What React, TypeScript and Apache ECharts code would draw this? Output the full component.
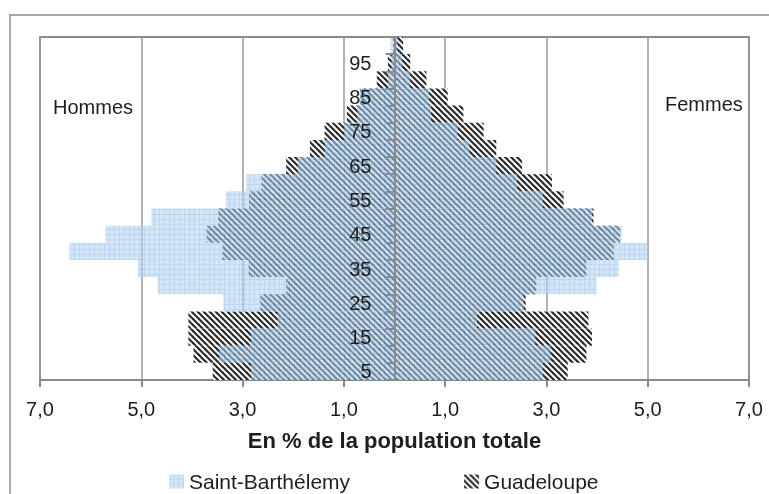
import React, { useEffect, useRef } from "react";
import * as echarts from "echarts";

const ages = ["5", "10", "15", "20", "25", "30", "35", "40", "45", "50", "55", "60", "65", "70", "75", "80", "85", "90", "95", "100"];

const sbHommes = [2.83, 3.46, 2.83, 2.31, 3.38, 4.68, 5.07, 6.42, 5.71, 4.8, 3.33, 2.93, 1.91, 1.38, 0.99, 0.73, 0.69, 0.13, 0.06, 0.08];
const gHommes = [3.59, 3.97, 4.07, 4.07, 2.65, 2.14, 2.88, 3.4, 3.71, 3.48, 2.87, 2.63, 2.14, 1.67, 1.38, 0.94, 0.68, 0.35, 0.13, 0.03];
const sbFemmes = [2.93, 3.08, 2.78, 1.63, 2.55, 3.99, 4.43, 5.0, 4.49, 3.9, 2.93, 2.42, 2.01, 1.48, 1.25, 0.72, 0.68, 0.31, 0.15, 0.06];
const gFemmes = [3.42, 3.79, 3.9, 3.83, 2.59, 2.8, 3.79, 4.33, 4.45, 3.93, 3.34, 3.11, 2.52, 2.01, 1.76, 1.36, 1.05, 0.63, 0.31, 0.17];

const xMin = -7;
const xMax = 7;
const xInterval = 2;

const FONT = "'Liberation Sans', Arial, sans-serif";
const TEXT = "#1e1e1e";

const GRID_LEFT = 40;
const GRID_RIGHT = 20;
const CHART_W = 769;

function makeHatch() {
  const s = 6;
  const c = document.createElement("canvas");
  c.width = s;
  c.height = s;
  const ctx = c.getContext("2d")!;
  ctx.fillStyle = "#ffffff";
  ctx.fillRect(0, 0, s, s);
  ctx.strokeStyle = "#2a2a2a";
  ctx.lineWidth = 2.2;
  for (let k = -2; k <= 2; k++) {
    ctx.beginPath();
    ctx.moveTo(-s, -s + k * s);
    ctx.lineTo(2 * s, 2 * s + k * s);
    ctx.stroke();
  }
  return c;
}

function makeGrid() {
  const s = 5;
  const c = document.createElement("canvas");
  c.width = s;
  c.height = s;
  const ctx = c.getContext("2d")!;
  ctx.fillStyle = "#b7d5f0";
  ctx.fillRect(0, 0, s, s);
  ctx.fillStyle = "#8dbde8";
  ctx.fillRect(s - 1, 0, 1, s);
  ctx.fillRect(0, s - 1, s, 1);
  return c;
}

export default function App() {
  const ref = useRef<HTMLDivElement>(null);
  useEffect(() => {
    if (!ref.current) return;
    const chart = echarts.init(ref.current, undefined, { renderer: "svg" });
    const hatch = { image: makeHatch(), repeat: "repeat", imageWidth: 6, imageHeight: 6 } as any;
    const grid = { image: makeGrid(), repeat: "repeat", imageWidth: 5, imageHeight: 5 } as any;
    const fmt = (v: number) => Math.abs(v).toFixed(1).replace(".", ",");
    const halfWidth = (CHART_W - GRID_LEFT - GRID_RIGHT) / 2;
    chart.setOption({
      animation: false,
      textStyle: { fontFamily: FONT },
      grid: {
        left: GRID_LEFT,
        right: GRID_RIGHT,
        top: 37,
        bottom: 114,
        show: true,
        containLabel: false,
        outerBoundsMode: "none",
        borderColor: "#8a8a8a",
        borderWidth: 2,
      },
      legend: {
        left: 164,
        top: 466,
        itemWidth: 15,
        itemHeight: 14,
        itemGap: 114,
        icon: "rect",
        textStyle: { fontSize: 21, color: TEXT, fontFamily: FONT },
        data: ["Saint-Barthélemy", "Guadeloupe"],
      },
      xAxis: {
        type: "value",
        min: xMin,
        max: xMax,
        interval: xInterval,
        axisLine: { show: true, lineStyle: { color: "#8a8a8a", width: 2 } },
        axisTick: { show: true, length: 7, lineStyle: { color: "#8a8a8a", width: 2 } },
        splitLine: { show: true, lineStyle: { color: "#9a9a9a", width: 1.5 } },
        axisLabel: { formatter: fmt, fontSize: 20, color: TEXT, margin: 19, fontFamily: FONT },
        name: "En % de la population totale",
        nameLocation: "middle",
        nameGap: 49,
        nameTextStyle: { fontSize: 22, fontWeight: "bold", color: TEXT, fontFamily: FONT },
      },
      yAxis: {
        type: "category",
        data: ages,
        z: 5,
        position: "left",
        offset: -halfWidth,
        axisLine: { onZero: false, lineStyle: { color: "#8a8a8a", width: 2 } },
        axisTick: { show: true, length: 9, interval: 0, lineStyle: { color: "#8a8a8a", width: 2 } },
        axisLabel: { interval: 1, margin: 23, fontSize: 20, color: TEXT, fontFamily: FONT },
        splitLine: { show: false },
      },
      series: [
        {
          name: "Guadeloupe",
          type: "bar",
          stack: "g",
          data: gHommes.map((v) => -v),
          itemStyle: { color: hatch },
          barCategoryGap: "0%",
          barGap: "-100%",
        },
        {
          name: "Guadeloupe",
          type: "bar",
          stack: "g",
          data: gFemmes,
          itemStyle: { color: hatch },
          barCategoryGap: "0%",
          barGap: "-100%",
        },
        {
          name: "Saint-Barthélemy",
          type: "bar",
          stack: "s",
          data: sbHommes.map((v) => -v),
          itemStyle: { color: grid, opacity: 0.6 },
          barCategoryGap: "0%",
          barGap: "-100%",
        },
        {
          name: "Saint-Barthélemy",
          type: "bar",
          stack: "s",
          data: sbFemmes,
          itemStyle: { color: grid, opacity: 0.6 },
          barCategoryGap: "0%",
          barGap: "-100%",
        },
      ],
      graphic: [
        {
          type: "rect",
          shape: { x: 10, y: 15, width: 800, height: 520 },
          style: { fill: "none", stroke: "#a8a8a8", lineWidth: 2 },
          silent: true,
        },
        {
          type: "text",
          x: 53,
          y: 107,
          style: { text: "Hommes", fontSize: 20, fill: TEXT, fontFamily: FONT, textVerticalAlign: "middle" },
        },
        {
          type: "text",
          x: 665,
          y: 104,
          style: { text: "Femmes", fontSize: 20, fill: TEXT, fontFamily: FONT, textVerticalAlign: "middle" },
        },
      ],
    });
    return () => chart.dispose();
  }, []);
  return <div ref={ref} style={{ position: "fixed", left: 0, top: 0, width: 769, height: 494 }} />;
}
